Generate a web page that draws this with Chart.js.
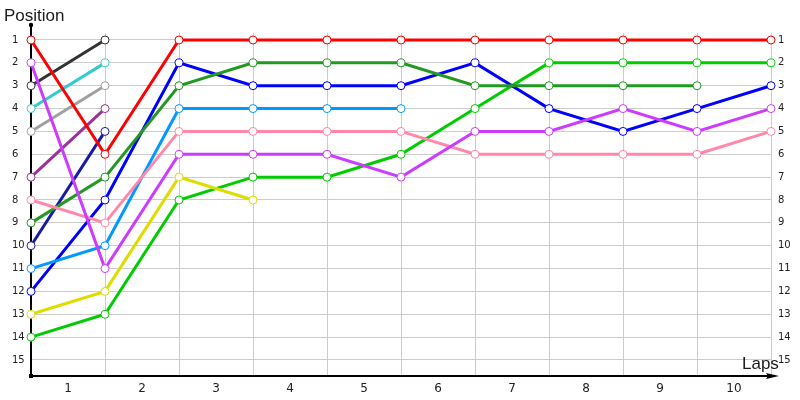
<!DOCTYPE html>
<html>
<head>
<meta charset="utf-8">
<script src="https://cdn.jsdelivr.net/npm/chart.js@4/dist/chart.umd.min.js"></script>
<style>
html,body{margin:0;padding:0;background:#fff;}
canvas{display:block;}
</style>
</head>
<body>
<canvas id="c" width="800" height="400"></canvas>
<script>
// Laps index 0 = start grid, 1..10 = after each lap
const lapPoints = [0,1,2,3,4,5,6,7,8,9,10];
const lapLabels = ['1','2','3','4','5','6','7','8','9','10'];
const positionTicks = [1,2,3,4,5,6,7,8,9,10,11,12,13,14,15];

const red        = [1,6,1,1,1,1,1,1,1,1,1];
const violet     = [2,11,6,6,6,7,5,5,4,5,4];
const darkGray   = [3,1];
const cyan       = [4,2];
const lightGray  = [5,3];
const darkPurple = [7,4];
const pink       = [8,9,5,5,5,5,6,6,6,6,5];
const darkGreen  = [9,7,3,2,2,2,3,3,3,3];
const navy       = [10,5];
const lightBlue  = [11,10,4,4,4,4];
const blue       = [12,8,2,3,3,3,2,4,5,4,3];
const yellow     = [13,12,7,8];
const green      = [14,13,8,7,7,6,4,2,2,2,2];

const series = [
  ['red', red, '#ff0000'],
  ['violet', violet, '#cc3cff'],
  ['darkGray', darkGray, '#333333'],
  ['cyan', cyan, '#33cccc'],
  ['lightGray', lightGray, '#a0a0a0'],
  ['darkPurple', darkPurple, '#993399'],
  ['pink', pink, '#ff88aa'],
  ['darkGreen', darkGreen, '#229922'],
  ['navy', navy, '#1a1aa0'],
  ['lightBlue', lightBlue, '#0099ff'],
  ['blue', blue, '#0000ff'],
  ['yellow', yellow, '#dddd00'],
  ['green', green, '#00cc00']
];

const datasets = series.map(([name, vals, col]) => ({
  label: name,
  data: vals.map((v, i) => ({x: lapPoints[i], y: v})),
  borderColor: col,
  backgroundColor: '#ffffff',
  borderWidth: 3,
  pointRadius: 4,
  pointBorderWidth: 1,
  pointBorderColor: col,
  pointBackgroundColor: '#ffffff',
  tension: 0,
  clip: false
}));

const decor = {
  id: 'decor',
  afterDraw(chart) {
    const ctx = chart.ctx;
    const a = chart.chartArea;
    ctx.save();
    ctx.strokeStyle = '#000';
    ctx.fillStyle = '#000';
    ctx.lineWidth = 2;
    // y axis extension
    ctx.beginPath();
    ctx.moveTo(a.left, a.top);
    ctx.lineTo(a.left, 25);
    ctx.stroke();
    ctx.beginPath();
    ctx.arc(a.left, 25, 2.2, 0, Math.PI * 2);
    ctx.fill();
    // x axis extension + arrow
    ctx.beginPath();
    ctx.moveTo(a.right, a.bottom);
    ctx.lineTo(772, a.bottom);
    ctx.stroke();
    ctx.beginPath();
    ctx.moveTo(779, a.bottom);
    ctx.lineTo(766, a.bottom - 3);
    ctx.lineTo(768, a.bottom);
    ctx.lineTo(766, a.bottom + 3);
    ctx.closePath();
    ctx.fill();
    // origin marker
    ctx.fillRect(a.left - 2, a.bottom - 2, 4, 4);
    // titles
    ctx.fillStyle = '#1a1a1a';
    ctx.font = '17px "Liberation Sans"';
    ctx.textAlign = 'left';
    ctx.textBaseline = 'alphabetic';
    ctx.fillText('Position', 4, 21);
    ctx.fillText('Laps', 742, 369);
    ctx.restore();
  }
};

new Chart(document.getElementById('c'), {
  type: 'line',
  data: { datasets },
  options: {
    responsive: false,
    animation: false,
    events: [],
    layout: { padding: { top: 33, left: 12, right: 0, bottom: 0 } },
    plugins: { legend: { display: false }, tooltip: { enabled: false }, title: { display: false } },
    scales: {
      x: {
        type: 'linear',
        position: 'bottom',
        min: 0,
        max: 10,
        afterBuildTicks(scale) {
          const t = [];
          for (let i = 0; i <= 20; i++) t.push({ value: i / 2 });
          scale.ticks = t;
        },
        afterFit(scale) { scale.height = 24; },
        grid: {
          drawTicks: false,
          lineWidth: 1,
          color: (c) => (c.tick && c.tick.value % 1 === 0 && c.tick.value !== 0) ? '#cccccc' : 'rgba(0,0,0,0)'
        },
        border: { display: true, color: '#000', width: 2 },
        ticks: {
          autoSkip: false,
          maxRotation: 0,
          padding: 6,
          color: '#222',
          font: { family: 'DejaVu Sans', size: 12 },
          callback: (v) => (v % 1 !== 0) ? lapLabels[Math.floor(v)] : ''
        }
      },
      y: {
        type: 'linear',
        position: 'left',
        reverse: true,
        min: 0.694,
        max: 15.7,
        afterBuildTicks(scale) { scale.ticks = positionTicks.map(v => ({ value: v })); },
        afterFit(scale) { scale.width = 19; },
        grid: { drawTicks: false, color: '#cccccc', lineWidth: 1 },
        border: { display: true, color: '#000', width: 2 },
        ticks: {
          crossAlign: 'far',
          padding: 0,
          color: '#222',
          font: { family: 'DejaVu Sans', size: 10 },
          callback: (v) => String(v)
        }
      },
      y2: {
        type: 'linear',
        position: 'right',
        reverse: true,
        min: 0.694,
        max: 15.7,
        afterBuildTicks(scale) { scale.ticks = positionTicks.map(v => ({ value: v })); },
        afterFit(scale) { scale.width = 29; },
        grid: { display: false, drawTicks: false },
        border: { display: false },
        ticks: {
          crossAlign: 'near',
          padding: 7,
          color: '#222',
          font: { family: 'DejaVu Sans', size: 10 },
          callback: (v) => String(v)
        }
      }
    }
  },
  plugins: [decor]
});
</script>
</body>
</html>
